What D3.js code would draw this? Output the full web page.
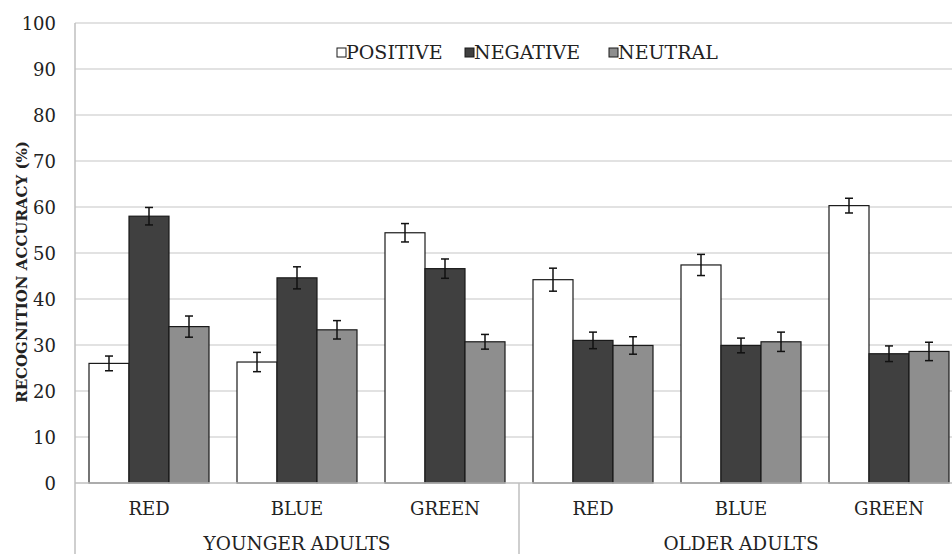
<!DOCTYPE html>
<html>
<head>
<meta charset="utf-8">
<script src="https://cdn.jsdelivr.net/npm/d3@7"></script>
<style>
  body { margin: 0; background: #fff; }
</style>
</head>
<body>
<script>
// data
var groups = ["YOUNGER ADULTS", "OLDER ADULTS"];
var colours = ["RED", "BLUE", "GREEN"];
var series = ["POSITIVE", "NEGATIVE", "NEUTRAL"];

var positive = [26.0, 26.3, 54.4, 44.2, 47.4, 60.3];
var negative = [58.0, 44.6, 46.6, 31.0, 29.9, 28.1];
var neutral  = [34.0, 33.3, 30.7, 29.9, 30.7, 28.6];

var positiveErr = [1.6, 2.1, 2.0, 2.5, 2.3, 1.6];
var negativeErr = [1.9, 2.4, 2.1, 1.8, 1.6, 1.7];
var neutralErr  = [2.3, 2.0, 1.6, 1.9, 2.1, 2.0];

var yTicks = [0, 10, 20, 30, 40, 50, 60, 70, 80, 90, 100];

// set dimensions
var width = 952;
var height = 554;
var plotLeft = 75, plotRight = 963, plotTop = 23, plotBottom = 483;

var fills = { POSITIVE: "#ffffff", NEGATIVE: "#404040", NEUTRAL: "#8e8e8e" };

var svg = d3.select("body")
    .append("svg")
    .attr("width", width)
    .attr("height", height)
    .style("display", "block")
    .attr("font-family", "DejaVu Serif");

// one entry per x category (group x colour)
var cats = [];
groups.forEach(function(g, gi) {
    colours.forEach(function(c, ci) {
        cats.push({ group: g, colour: c, i: gi * colours.length + ci });
    });
});

var vals = { POSITIVE: positive, NEGATIVE: negative, NEUTRAL: neutral };
var errs = { POSITIVE: positiveErr, NEGATIVE: negativeErr, NEUTRAL: neutralErr };

// scales
var x0 = d3.scaleBand()
    .domain(cats.map(d => d.i))
    .range([plotLeft, plotRight])
    .padding(0);

var x1 = d3.scaleBand()
    .domain(series)
    .range([0, x0.bandwidth()])
    .paddingInner(0)
    .paddingOuter(0.35);

var yScale = d3.scaleLinear()
    .domain([0, 100])
    .range([plotBottom, plotTop]);

// gridlines
svg.append("g")
    .selectAll("line")
    .data(yTicks.filter(d => d > 0))
    .enter()
    .append("line")
    .attr("x1", plotLeft)
    .attr("x2", width)
    .attr("y1", d => yScale(d))
    .attr("y2", d => yScale(d))
    .attr("stroke", "#d9d9d9")
    .attr("stroke-width", 1.5);

// y tick labels
svg.append("g")
    .selectAll("text")
    .data(yTicks)
    .enter()
    .append("text")
    .attr("x", 56)
    .attr("y", d => yScale(d) + 6.5)
    .attr("text-anchor", "end")
    .attr("font-size", "18px")
    .attr("fill", "#222")
    .text(d => d);

// y title
svg.append("text")
    .attr("transform", "translate(27,272) rotate(-90)")
    .attr("text-anchor", "middle")
    .attr("font-size", "15px")
    .attr("font-weight", "bold")
    .attr("fill", "#222")
    .text("RECOGNITION ACCURACY (%)");

// bars
var rows = [];
cats.forEach(function(c) {
    series.forEach(function(s) {
        rows.push({ cat: c.i, s: s, v: vals[s][c.i], e: errs[s][c.i] });
    });
});

svg.append("g")
    .selectAll("rect")
    .data(rows)
    .enter()
    .append("rect")
    .attr("x", d => x0(d.cat) + x1(d.s))
    .attr("y", d => yScale(d.v))
    .attr("width", x1.bandwidth())
    .attr("height", d => yScale(0) - yScale(d.v))
    .attr("fill", d => fills[d.s])
    .attr("stroke", "#1a1a1a")
    .attr("stroke-width", 1.2);

// error bars
var eb = svg.append("g")
    .attr("stroke", "#111")
    .attr("stroke-width", 1.5)
    .selectAll("g")
    .data(rows)
    .enter()
    .append("g");

eb.append("line")
    .attr("x1", d => x0(d.cat) + x1(d.s) + x1.bandwidth() / 2)
    .attr("x2", d => x0(d.cat) + x1(d.s) + x1.bandwidth() / 2)
    .attr("y1", d => yScale(d.v + d.e))
    .attr("y2", d => yScale(d.v - d.e));

[1, -1].forEach(function(sign) {
    eb.append("line")
        .attr("x1", d => x0(d.cat) + x1(d.s) + x1.bandwidth() / 2 - 4)
        .attr("x2", d => x0(d.cat) + x1(d.s) + x1.bandwidth() / 2 + 4)
        .attr("y1", d => yScale(d.v + sign * d.e))
        .attr("y2", d => yScale(d.v + sign * d.e));
});

// axis lines
svg.append("line")
    .attr("x1", plotLeft).attr("x2", width)
    .attr("y1", yScale(0)).attr("y2", yScale(0))
    .attr("stroke", "#bfbfbf").attr("stroke-width", 1.5);

svg.append("line")
    .attr("x1", plotLeft).attr("x2", plotLeft)
    .attr("y1", yScale(100)).attr("y2", height)
    .attr("stroke", "#bfbfbf").attr("stroke-width", 1.5);

// group separator
var groupStart = groups.map((g, gi) => x0(gi * colours.length));
svg.append("g")
    .selectAll("line")
    .data(groupStart.slice(1))
    .enter()
    .append("line")
    .attr("x1", d => d).attr("x2", d => d)
    .attr("y1", yScale(0)).attr("y2", height)
    .attr("stroke", "#bfbfbf").attr("stroke-width", 1.5);

// category labels
svg.append("g")
    .selectAll("text")
    .data(cats)
    .enter()
    .append("text")
    .attr("x", d => x0(d.i) + x0.bandwidth() / 2)
    .attr("y", 515)
    .attr("text-anchor", "middle")
    .attr("font-size", "18px")
    .attr("fill", "#222")
    .text(d => d.colour);

// group labels
svg.append("g")
    .selectAll("text")
    .data(groups)
    .enter()
    .append("text")
    .attr("x", (d, gi) => groupStart[gi] + x0.bandwidth() * colours.length / 2)
    .attr("y", 550)
    .attr("text-anchor", "middle")
    .attr("font-size", "18.5px")
    .attr("fill", "#222")
    .text(d => d);

// legend
var legendX = [337, 465, 609];
var legend = svg.append("g")
    .selectAll("g")
    .data(series)
    .enter()
    .append("g")
    .attr("transform", (d, i) => "translate(" + legendX[i] + ",48)");

legend.append("rect")
    .attr("width", 9)
    .attr("height", 9)
    .attr("fill", d => fills[d])
    .attr("stroke", "#1a1a1a")
    .attr("stroke-width", 1);

legend.append("text")
    .attr("x", 9)
    .attr("y", 11)
    .attr("font-size", "19px")
    .attr("fill", "#222")
    .text(d => d);
</script>
</body>
</html>
